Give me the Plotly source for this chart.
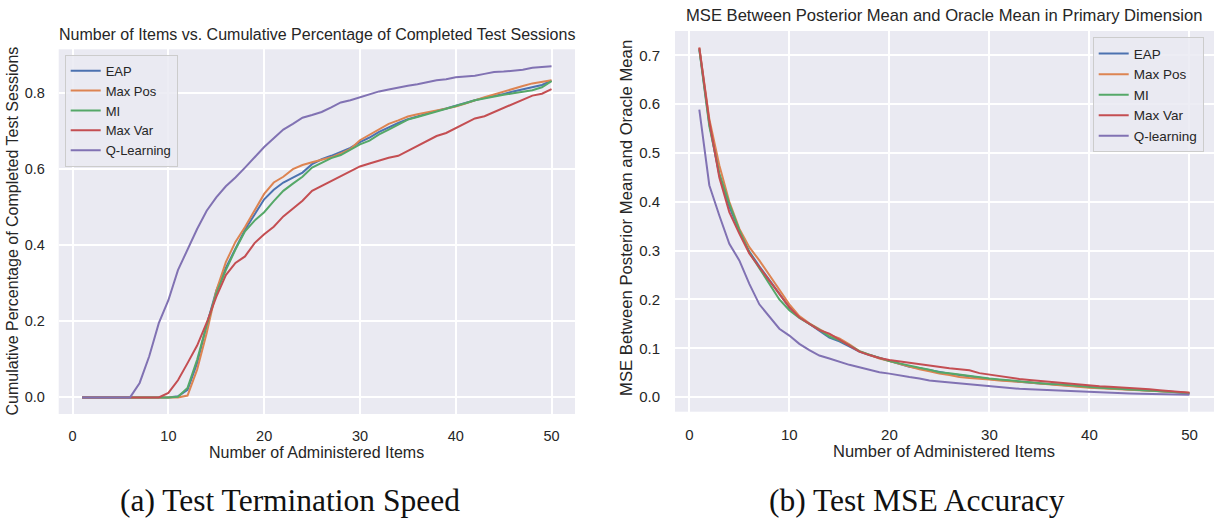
import plotly.graph_objects as go

W, H = 1214, 521

items = list(range(1, 51))
names_left = ["EAP", "Max Pos", "MI", "Max Var", "Q-Learning"]
names_right = ["EAP", "Max Pos", "MI", "Max Var", "Q-learning"]
colors = ["#4C72B0", "#DD8452", "#55A868", "#C44E52", "#8172B3"]

# (a) cumulative percentage of completed test sessions
cum_eap = [0]*10 + [0.003, 0.02, 0.09, 0.19, 0.28, 0.34, 0.39, 0.44, 0.48, 0.52,
                    0.545, 0.564, 0.577, 0.59, 0.612, 0.625, 0.634, 0.644, 0.655, 0.67,
                    0.682, 0.697, 0.709, 0.72, 0.73, 0.738, 0.745, 0.752, 0.758, 0.766,
                    0.773, 0.78, 0.786, 0.79, 0.796, 0.803, 0.808, 0.814, 0.82, 0.831]
cum_maxpos = [0]*11 + [0.005, 0.073, 0.169, 0.28, 0.355, 0.408, 0.447, 0.49, 0.534,
                       0.564, 0.579, 0.599, 0.61, 0.617, 0.623, 0.63, 0.64, 0.652, 0.675,
                       0.69, 0.705, 0.718, 0.727, 0.737, 0.743, 0.748, 0.752, 0.757, 0.763,
                       0.771, 0.78, 0.788, 0.795, 0.803, 0.811, 0.817, 0.824, 0.828, 0.832]
cum_mi = [0]*10 + [0.002, 0.025, 0.099, 0.19, 0.273, 0.334, 0.388, 0.436, 0.464, 0.486,
                   0.515, 0.542, 0.561, 0.579, 0.603, 0.616, 0.628, 0.636, 0.651, 0.664,
                   0.674, 0.69, 0.703, 0.716, 0.729, 0.736, 0.743, 0.751, 0.757, 0.765,
                   0.772, 0.78, 0.785, 0.789, 0.794, 0.798, 0.801, 0.806, 0.814, 0.83]
cum_maxvar = [0]*9 + [0.012, 0.045, 0.09, 0.136, 0.196, 0.264, 0.321, 0.353, 0.37, 0.405,
                      0.428, 0.448, 0.475, 0.496, 0.516, 0.542, 0.555, 0.567, 0.581, 0.595,
                      0.606, 0.614, 0.622, 0.629, 0.634, 0.647, 0.66, 0.671, 0.686, 0.694,
                      0.706, 0.718, 0.732, 0.738, 0.749, 0.761, 0.77, 0.781, 0.792, 0.797, 0.809]
cum_q = [0]*6 + [0.038, 0.108, 0.195, 0.255, 0.334, 0.388, 0.442, 0.49, 0.525, 0.554,
                 0.577, 0.603, 0.631, 0.657, 0.68, 0.703, 0.718, 0.734, 0.741, 0.749,
                 0.761, 0.774, 0.78, 0.788, 0.794, 0.803, 0.808, 0.814, 0.818, 0.822,
                 0.827, 0.832, 0.835, 0.84, 0.842, 0.844, 0.849, 0.854, 0.855, 0.857,
                 0.86, 0.865, 0.867, 0.869]

# (b) MSE between posterior mean and oracle mean
mse_eap = [0.714, 0.56, 0.455, 0.39, 0.34, 0.298, 0.268, 0.24, 0.212, 0.184,
           0.164, 0.15, 0.137, 0.122, 0.114, 0.104, 0.093, 0.086, 0.08, 0.074,
           0.067, 0.062, 0.059, 0.055, 0.051, 0.048, 0.045, 0.042, 0.04, 0.037,
           0.035, 0.033, 0.031, 0.03, 0.028, 0.027, 0.025, 0.023, 0.022, 0.02,
           0.019, 0.018, 0.016, 0.015, 0.014, 0.013, 0.012, 0.011, 0.01, 0.008]
mse_maxpos = [0.716, 0.57, 0.475, 0.40, 0.345, 0.307, 0.28, 0.25, 0.222, 0.19,
              0.166, 0.151, 0.139, 0.128, 0.12, 0.108, 0.094, 0.086, 0.079, 0.074,
              0.068, 0.062, 0.057, 0.053, 0.048, 0.045, 0.041, 0.039, 0.038, 0.036,
              0.034, 0.033, 0.031, 0.03, 0.028, 0.026, 0.025, 0.023, 0.021, 0.019,
              0.018, 0.017, 0.016, 0.015, 0.014, 0.013, 0.012, 0.011, 0.01, 0.009]
mse_mi = [0.712, 0.555, 0.458, 0.396, 0.342, 0.296, 0.264, 0.232, 0.2, 0.178,
          0.162, 0.15, 0.138, 0.124, 0.116, 0.106, 0.094, 0.087, 0.08, 0.074,
          0.069, 0.064, 0.06, 0.056, 0.051, 0.049, 0.046, 0.043, 0.041, 0.038,
          0.036, 0.034, 0.032, 0.031, 0.029, 0.027, 0.026, 0.024, 0.022, 0.02,
          0.019, 0.018, 0.017, 0.016, 0.014, 0.013, 0.012, 0.011, 0.009, 0.007]
mse_maxvar = [0.716, 0.565, 0.45, 0.379, 0.335, 0.294, 0.266, 0.239, 0.21, 0.184,
              0.163, 0.15, 0.137, 0.13, 0.118, 0.105, 0.093, 0.086, 0.08, 0.076,
              0.073, 0.07, 0.067, 0.065, 0.061, 0.059, 0.057, 0.055, 0.049, 0.046,
              0.042, 0.039, 0.037, 0.035, 0.033, 0.031, 0.029, 0.027, 0.025, 0.023,
              0.022, 0.021, 0.02, 0.018, 0.017, 0.016, 0.014, 0.012, 0.011, 0.009]
mse_q = [0.589, 0.434, 0.372, 0.314, 0.28, 0.232, 0.19, 0.164, 0.14, 0.126,
         0.109, 0.096, 0.085, 0.079, 0.072, 0.066, 0.061, 0.056, 0.051, 0.048,
         0.044, 0.041, 0.038, 0.034, 0.032, 0.03, 0.029, 0.026, 0.025, 0.023,
         0.02, 0.018, 0.017, 0.016, 0.015, 0.014, 0.013, 0.012, 0.011, 0.01,
         0.0095, 0.009, 0.008, 0.0075, 0.007, 0.0065, 0.006, 0.0055, 0.005, 0.0045]

x_ticks = [0, 10, 20, 30, 40, 50]
left_y_ticks = [0.0, 0.2, 0.4, 0.6, 0.8]
right_y_ticks = [0.0, 0.1, 0.2, 0.3, 0.4, 0.5, 0.6, 0.7]

left_series = [cum_eap, cum_maxpos, cum_mi, cum_maxvar, cum_q]
right_series = [mse_eap, mse_maxpos, mse_mi, mse_maxvar, mse_q]

SANS = "Liberation Sans, Arial, sans-serif"
SERIF = "Liberation Serif, Times New Roman, serif"
TXT = "#262626"
BG = "#EAEAF2"

fig = go.Figure()
for n, c, ys in zip(names_left, colors, left_series):
    fig.add_trace(go.Scatter(x=items, y=ys, mode="lines", name=n,
                             line=dict(color=c, width=2), xaxis="x", yaxis="y",
                             legend="legend"))
for n, c, ys in zip(names_right, colors, right_series):
    fig.add_trace(go.Scatter(x=items, y=ys, mode="lines", name=n,
                             line=dict(color=c, width=2), xaxis="x2", yaxis="y2",
                             legend="legend2"))

def px_x(p):
    return p / W

def px_y(p):
    return 1 - p / H

axis_common = dict(showgrid=True, gridcolor="white", gridwidth=1.6, zeroline=False,
                   showline=False, ticks="outside", tickcolor="rgba(0,0,0,0)",
                   color=TXT)

fig.update_layout(
    width=W, height=H,
    margin=dict(l=0, r=0, t=0, b=0),
    paper_bgcolor="white",
    plot_bgcolor=BG,
    font=dict(family=SANS, color=TXT),
    xaxis=dict(domain=[px_x(58.7), px_x(575)], range=[-1.45, 52.45],
               tickvals=x_ticks, ticklen=9, tickfont=dict(size=14.5),
               anchor="y", **axis_common),
    yaxis=dict(domain=[px_y(414), px_y(49.3)], range=[-0.0435, 0.9135],
               tickvals=left_y_ticks, tickformat=".1f", ticklen=10,
               tickfont=dict(size=14.5), anchor="x", **axis_common),
    xaxis2=dict(domain=[px_x(675), 1.0], range=[-1.43, 52.45],
                tickvals=x_ticks, ticklen=9, tickfont=dict(size=15),
                anchor="y2", **axis_common),
    yaxis2=dict(domain=[px_y(411.7), px_y(31)], range=[-0.030, 0.750],
                tickvals=right_y_ticks, tickformat=".1f", ticklen=11,
                tickfont=dict(size=15), anchor="x2", **axis_common),
    legend=dict(x=px_x(64.7), y=px_y(54.7), xanchor="left", yanchor="top",
                bgcolor="rgba(234,234,242,0.85)", bordercolor="#CCCCCC",
                borderwidth=1, font=dict(size=13, color=TXT, family=SANS)),
    legend2=dict(x=px_x(1092.7), y=px_y(37.3), xanchor="left", yanchor="top",
                 bgcolor="rgba(234,234,242,0.85)", bordercolor="#CCCCCC",
                 borderwidth=1, font=dict(size=13.5, color=TXT, family=SANS)),
)

annos = [
    dict(text="Number of Items vs. Cumulative Percentage of Completed Test Sessions",
         x=px_x(317), y=px_y(34), size=16),
    dict(text="MSE Between Posterior Mean and Oracle Mean in Primary Dimension",
         x=px_x(944), y=px_y(16), size=16.6),
    dict(text="Number of Administered Items", x=px_x(317), y=px_y(452), size=16),
    dict(text="Number of Administered Items", x=px_x(944), y=px_y(451), size=16.5),
]
for a in annos:
    fig.add_annotation(text=a["text"], x=a["x"], y=a["y"], xref="paper", yref="paper",
                       xanchor="center", yanchor="middle", showarrow=False,
                       font=dict(size=a["size"], color=TXT, family=SANS))

fig.add_annotation(text="Cumulative Percentage of Completed Test Sessions",
                   x=px_x(12), y=px_y(231.5), xref="paper", yref="paper",
                   xanchor="center", yanchor="middle", textangle=-90, showarrow=False,
                   font=dict(size=16, color=TXT, family=SANS))
fig.add_annotation(text="MSE Between Posterior Mean and Oracle Mean",
                   x=px_x(626), y=px_y(218), xref="paper", yref="paper",
                   xanchor="center", yanchor="middle", textangle=-90, showarrow=False,
                   font=dict(size=16.7, color=TXT, family=SANS))

fig.add_annotation(text="(a) Test Termination Speed", x=px_x(290), y=px_y(500),
                   xref="paper", yref="paper", xanchor="center", yanchor="middle",
                   showarrow=False, font=dict(size=31.5, color="#111111", family=SERIF))
fig.add_annotation(text="(b) Test MSE Accuracy", x=px_x(917), y=px_y(500),
                   xref="paper", yref="paper", xanchor="center", yanchor="middle",
                   showarrow=False, font=dict(size=31.5, color="#111111", family=SERIF))

fig.write_html("out.html")
